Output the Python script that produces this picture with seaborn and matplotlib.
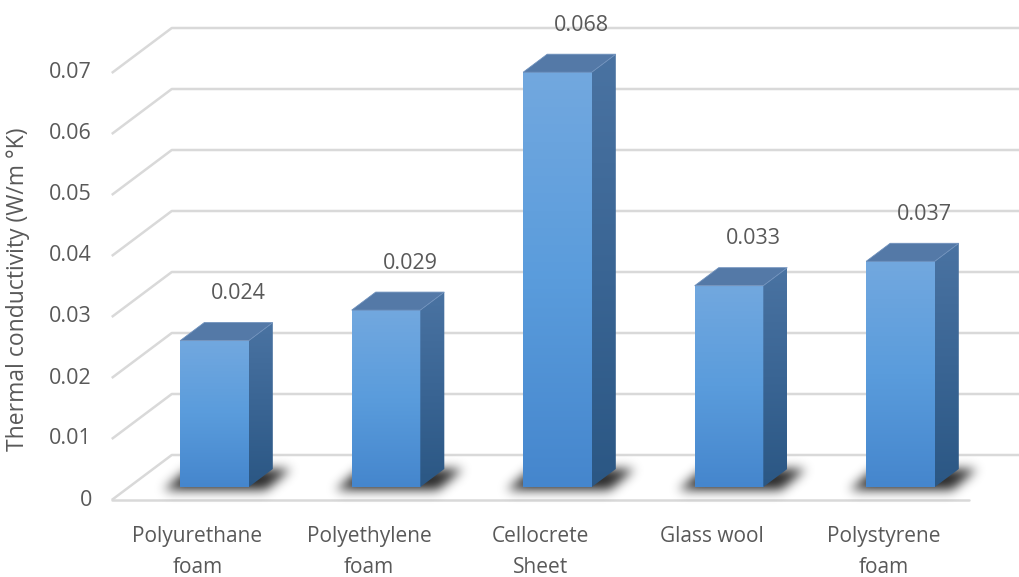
import numpy as np
import matplotlib
matplotlib.use("Agg")
import matplotlib.pyplot as plt
from matplotlib.colors import LinearSegmentedColormap
from matplotlib.patches import Polygon
import seaborn as sns

# ---- data -------------------------------------------------------------
categories = ["Polyurethane\nfoam", "Polyethylene\nfoam", "Cellocrete\nSheet",
              "Glass wool", "Polystyrene\nfoam"]
conductivity = [0.024, 0.029, 0.068, 0.033, 0.037]
y_ticks = [0.0, 0.01, 0.02, 0.03, 0.04, 0.05, 0.06, 0.07]
y_tick_labels = ["0", "0.01", "0.02", "0.03", "0.04", "0.05", "0.06", "0.07"]
y_label = "Thermal conductivity (W/m °K)"

# ---- style ------------------------------------------------------------
sns.set_theme(style="white")
plt.rcParams["font.family"] = ["Open Sans", "DejaVu Sans"]
TEXT = "#595959"
GRID = "#D9D9D9"

W_PX, H_PX, DPI = 1019, 577, 100
fig = plt.figure(figsize=(W_PX / DPI, H_PX / DPI), dpi=DPI)
ax = fig.add_axes([0, 0, 1, 1])

# pixels per data unit along each axis (oblique 3-D projection helpers)
SX = 171.5
SY = 6100.0
X0_PX, Y0_PX = 214.5, 487.0
XLIM = (-X0_PX / SX, (W_PX - X0_PX) / SX)
YLIM = (-(H_PX - Y0_PX) / SY, Y0_PX / SY)


def off(dx, dy):
    """Pixel offset -> data offset (dy positive upward)."""
    return dx / SX, dy / SY


DEPTH = off(24, 18)        # bar depth vector
FRONT = off(-17, -13)      # floor front edge relative to bar plane
BACK = off(43, 32)         # back wall relative to bar plane
LEFT = -0.5

# ---- walls / gridlines -----------------------------------------------
for v in y_ticks:
    fx, fy = LEFT + FRONT[0], v + FRONT[1]
    bx, by = LEFT + BACK[0], v + BACK[1]
    ax.plot([fx, bx, XLIM[1] + 1], [fy, by, by], color=GRID, lw=1.8,
            solid_capstyle="butt", zorder=1)
# floor front edge
ax.plot([LEFT + FRONT[0], 4.5 + FRONT[0]], [FRONT[1], FRONT[1]],
        color=GRID, lw=1.8, zorder=1)

for v, lab in zip(y_ticks, y_tick_labels):
    ax.text(LEFT + FRONT[0] - 20 / SX, v + FRONT[1], lab, ha="right",
            va="center", fontsize=15.5, color=TEXT)

ax.text(18 / SX + XLIM[0], YLIM[1] - 289 / SY, y_label, rotation=90,
        ha="center", va="center", fontsize=16.5, color=TEXT)

# ---- bars (front faces) ------------------------------------------------
sns.barplot(x=list(range(len(categories))), y=conductivity, ax=ax,
            width=0.4, color="#5B9BD5", saturation=1, zorder=4,
            linewidth=0, native_scale=True)

front_cmap = LinearSegmentedColormap.from_list("front", ["#4586CD", "#5A9CDC", "#72A8DF"])
side_cmap = LinearSegmentedColormap.from_list("side", ["#2B5784", "#3A6594", "#4A73A2"])
grad = np.linspace(0, 1, 256).reshape(-1, 1)


def gaussian_blur(img, sigma):
    r = int(3 * sigma)
    k = np.exp(-0.5 * (np.arange(-r, r + 1) / sigma) ** 2)
    k /= k.sum()
    img = np.apply_along_axis(lambda m: np.convolve(m, k, mode="same"), 0, img)
    img = np.apply_along_axis(lambda m: np.convolve(m, k, mode="same"), 1, img)
    return img


bars = list(ax.patches)
for p, val in zip(bars, conductivity):
    x0, w, h = p.get_x(), p.get_width(), p.get_height()
    dx, dy = DEPTH
    wpx = w * SX

    # soft shadow on the floor around the base
    xs = np.arange(-50, wpx + 90)
    ys = np.arange(-25, 45)
    XX, YY = np.meshgrid(xs, ys)
    slope = 26 / 22
    xl = -16 + (YY + 3) * slope
    xr = wpx + 18 + (YY + 3) * slope
    mask = ((YY >= -3) & (YY <= 17) & (XX >= xl) & (XX <= xr)).astype(float)
    mask = gaussian_blur(mask, 5.5)
    rgba = np.zeros(mask.shape + (4,))
    rgba[..., 3] = np.clip(mask * 0.85, 0, 1)
    ax.imshow(rgba, extent=[x0 + xs[0] / SX, x0 + xs[-1] / SX,
                            ys[0] / SY, ys[-1] / SY],
              origin="lower", aspect="auto", interpolation="bilinear", zorder=2)

    # front face gradient
    im = ax.imshow(grad, extent=[x0, x0 + w, 0, h], origin="lower",
                   aspect="auto", cmap=front_cmap, interpolation="bilinear", zorder=5)
    im.set_clip_path(p)

    # side face
    side = Polygon([(x0 + w, 0), (x0 + w + dx, dy), (x0 + w + dx, h + dy), (x0 + w, h)],
                   closed=True, facecolor="none", edgecolor="none", zorder=5)
    ax.add_patch(side)
    ims = ax.imshow(grad, extent=[x0 + w, x0 + w + dx, 0, h + dy], origin="lower",
                    aspect="auto", cmap=side_cmap, interpolation="bilinear", zorder=5)
    ims.set_clip_path(side)

    # top face
    top = Polygon([(x0, h), (x0 + dx, h + dy), (x0 + w + dx, h + dy), (x0 + w, h)],
                  closed=True, facecolor="#5479A7", edgecolor="#6E90BC", lw=0.6, zorder=6)
    ax.add_patch(top)

    # value label
    ax.text(x0 + w / 2 + dx, h + dy + 29 / SY, f"{val:.3f}", ha="center",
            va="center", fontsize=15.5, color=TEXT, zorder=7)

# category labels along the floor front edge
for i, cat in enumerate(categories):
    ax.text(i + FRONT[0], YLIM[1] - 526 / SY, cat, ha="center", va="top",
            fontsize=15, color=TEXT, linespacing=1.6)

ax.set_xlim(*XLIM)
ax.set_ylim(*YLIM)
ax.axis("off")

fig.savefig("out.png", dpi=DPI, facecolor="white")
